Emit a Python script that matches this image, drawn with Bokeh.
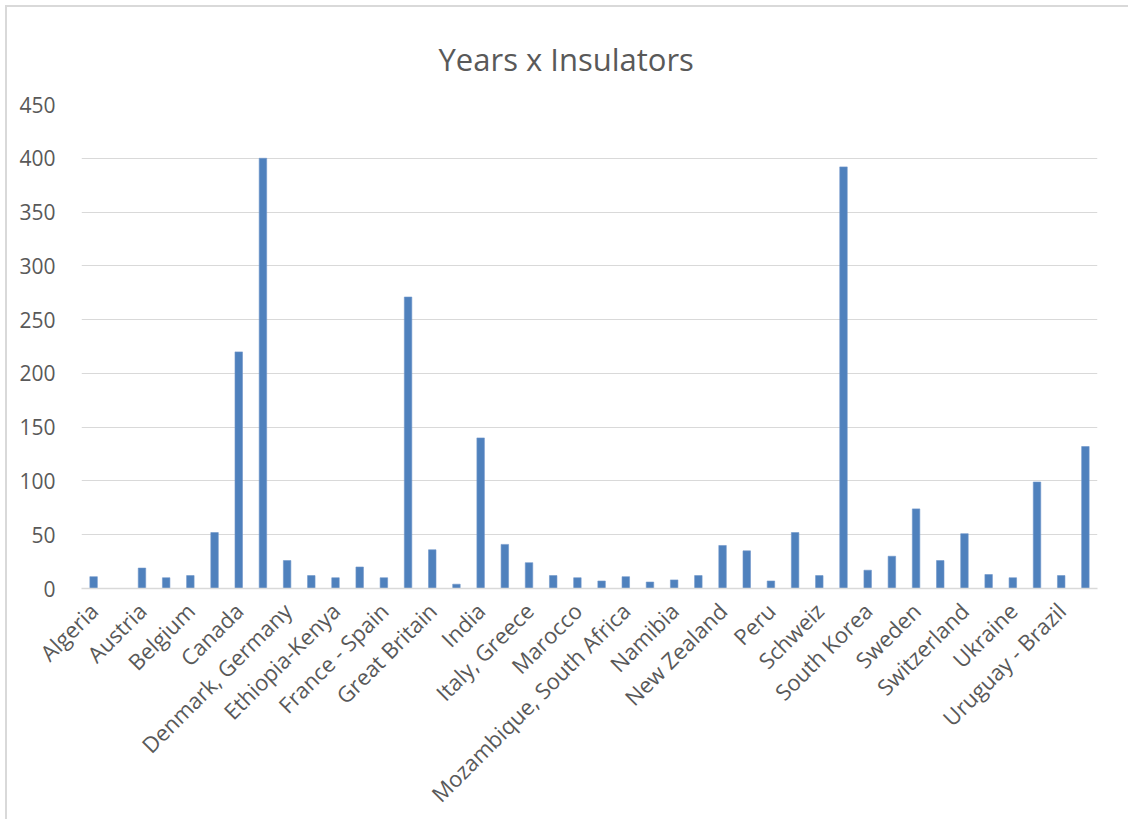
import math
from bokeh.plotting import figure
from bokeh.models import FixedTicker, ColumnDataSource
from bokeh.embed import file_html
from bokeh.resources import INLINE

categories = [
    "Algeria", "Argentina", "Austria", "Bangladesh", "Belgium", "Brazil",
    "Canada", "China", "Denmark, Germany", "Egypt", "Ethiopia-Kenya", "Finland",
    "France - Spain", "Germany", "Great Britain", "Greece", "India", "Indonesia",
    "Italy, Greece", "Japan", "Marocco", "Mexico", "Mozambique, South Africa", "Myanmar",
    "Namibia", "Netherlands", "New Zealand", "Norway", "Peru", "Portugal",
    "Schweiz", "South Africa", "South Korea", "Spain", "Sweden", "Sweden - Norway",
    "Switzerland", "Turkey", "Ukraine", "United States", "Uruguay - Brazil", "USA",
]
values = [
    11, 0, 19, 10, 12, 52,
    220, 400, 26, 12, 10, 20,
    10, 271, 36, 4, 140, 41,
    24, 12, 10, 7, 11, 6,
    8, 12, 40, 35, 7, 52,
    12, 392, 17, 30, 74, 26,
    51, 13, 10, 99, 12, 132,
]
y_ticks = [0, 50, 100, 150, 200, 250, 300, 350, 400, 450]
title_text = "Years x Insulators"

FONT = "Open Sans"
GREY = "#595959"

xs = list(range(len(categories)))
src = ColumnDataSource(dict(x=xs, top=values, name=categories))

p = figure(width=1123, height=814, output_backend="svg", toolbar_location=None,
           x_range=(-0.5, len(categories) - 0.5), y_range=(0, 450),
           min_border_left=74, min_border_right=33, min_border_top=97, min_border_bottom=232,
           title=title_text)
# chart area border: left and top edges visible, the rest is cropped in the reference
p.styles = {"margin-left": "5px", "margin-top": "5px",
            "border-left": "2px solid #D9D9D9", "border-top": "2px solid #D9D9D9"}
p.title.align = "left"
p.title.offset = 357
p.title.text_font = FONT
p.title.text_font_size = "31px"
p.title.text_font_style = "normal"
p.title.text_color = GREY
p.title.standoff = 50
p.outline_line_color = None
p.background_fill_color = "white"
p.border_fill_color = "white"

p.vbar(x="x", top="top", width=0.31, source=src, fill_color="#4F81BD", line_color="#6F96CA", line_width=0.6)

# axes
p.xaxis.ticker = FixedTicker(ticks=xs[::2])
p.xaxis.major_label_overrides = {i: categories[i] for i in xs[::2]}
p.xaxis.major_label_orientation = math.pi / 4
p.xaxis.major_tick_line_color = None
p.xaxis.minor_tick_line_color = None
p.xaxis.axis_line_color = "#D9D9D9"
p.xaxis.axis_line_width = 1.5
p.xaxis.major_label_text_font = FONT
p.xaxis.major_label_text_font_size = "22px"
p.xaxis.major_label_text_color = GREY
p.xaxis.major_label_standoff = 12

p.yaxis.ticker = FixedTicker(ticks=y_ticks)
p.yaxis.axis_line_color = None
p.yaxis.major_tick_line_color = None
p.yaxis.minor_tick_line_color = None
p.yaxis.major_label_text_font = FONT
p.yaxis.major_label_text_font_size = "21px"
p.yaxis.major_label_text_color = GREY
p.yaxis.major_label_standoff = 20

p.xgrid.grid_line_color = None
p.ygrid.ticker = FixedTicker(ticks=y_ticks)
p.ygrid.grid_line_color = "#D9D9D9"
p.ygrid.grid_line_width = 1.2

open("out.html", "w").write(file_html(p, INLINE))
